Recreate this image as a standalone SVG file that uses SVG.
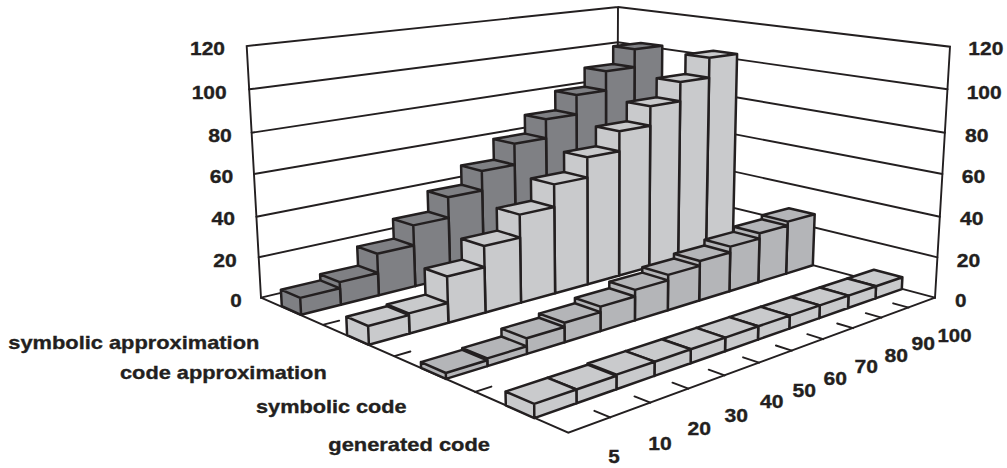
<svg xmlns="http://www.w3.org/2000/svg" width="1007" height="468" viewBox="0 0 1007 468">
<style>
.w{fill:none;stroke:#231f20;stroke-width:1.9;stroke-linecap:round}
.b{stroke:#231f20;stroke-width:2.5;stroke-linejoin:round}
.s3{fill:#7f8084}.s2{fill:#c9cacc}.s1{fill:#b4b5b8}.s0{fill:#c9cacc}
text{font-family:"Liberation Sans",Arial,Helvetica,sans-serif;font-weight:bold;font-size:19px;fill:#231f20;stroke:#231f20;stroke-width:0.35}
</style>
<rect width="1007" height="468" fill="#ffffff"/>
<g id="walls" class="w">
<path d="M261,297.7L246.7,46L618,7L950,46.7L935,297.7M617,213L618,7"/>
<path d="M249.1,89.3L617.8,42.3L947.5,89.3M251.6,132.7L617.7,77.2L944.9,132.7M254,174L617.5,111.8L942.4,174M256.4,216.7L617.3,145.9L939.8,216.7M258.7,257.3L617.2,179.6L937.4,257.3M261,297.7L617,213L935,297.7"/>
</g>
<g id="floor" class="w">
<path d="M261,297.7L568.3,432.7L935,297.7"/>
<path d="M610.3,417.4L594.4,410.8M650.4,402.7L634.5,396.4M688.4,388.7L672.5,382.7M724.6,375.4L708.7,369.7M759,362.7L743.1,357.3M791.8,350.7L775.9,345.5M823.1,339.2L807.3,334.2M853,328.2L837.2,323.5M881.5,317.7L865.8,313.2M908.8,307.6L893.2,303.3"/>
<path d="M475.1,391.9L491.4,386.6M394.4,356.1L410.4,351.5M323.6,324.7L339.2,320.7"/>
</g>
<g id="series-symbolic-approximation" class="b s3">
<path d="M613,225.6L633.8,231.4L634.7,49.2L613.2,46.3ZM633.8,231.4L660.6,224.7L662.3,45.8L634.7,49.2ZM634.7,49.2L662.3,45.8L640.8,42.9L613.2,46.3Z"/>
<path d="M585.2,232.3L606,238.3L606,71.2L584.6,67.8ZM606,238.3L633.8,231.4L634.6,67.3L606,71.2ZM606,71.2L634.6,67.3L613.2,64.1L584.6,67.8Z"/>
<path d="M556.5,239.4L577.2,245.6L576.5,94.9L555.2,91.1ZM577.2,245.6L606,238.3L606,90.5L576.5,94.9ZM576.5,94.9L606,90.5L584.7,86.8L555.2,91.1Z"/>
<path d="M526.6,246.6L547.3,253.1L545.9,119.3L524.8,115.1ZM547.3,253.1L577.2,245.6L576.5,114.4L545.9,119.3ZM545.9,119.3L576.5,114.4L555.4,110.3L524.8,115.1Z"/>
<path d="M495.7,254.2L516.2,260.8L514.4,143.7L493.4,139ZM516.2,260.8L547.3,253.1L546.1,138.2L514.4,143.7ZM514.4,143.7L546.1,138.2L525.1,133.6L493.4,139Z"/>
<path d="M463.5,262L483.9,268.9L481.8,171L461.1,165.6ZM483.9,268.9L516.2,260.8L514.7,164.8L481.8,171ZM481.8,171L514.7,164.8L493.8,159.7L461.1,165.6Z"/>
<path d="M430.1,270.1L450.3,277.4L448.1,197.2L427.6,191.3ZM450.3,277.4L483.9,268.9L482.2,190.4L448.1,197.2ZM448.1,197.2L482.2,190.4L461.6,184.7L427.6,191.3Z"/>
<path d="M395.3,278.6L415.3,286.1L413.3,225.4L393,219ZM415.3,286.1L450.3,277.4L448.7,217.9L413.3,225.4ZM413.3,225.4L448.7,217.9L428.3,211.7L393,219Z"/>
<path d="M359,287.4L378.8,295.3L377.2,253.7L357.2,246.6ZM378.8,295.3L415.3,286.1L413.9,245.5L377.2,253.7ZM377.2,253.7L413.9,245.5L393.8,238.6L357.2,246.6Z"/>
<path d="M321.2,296.6L340.8,304.8L339.7,282.1L320.1,274.3ZM340.8,304.8L378.8,295.3L378,273L339.7,282.1ZM339.7,282.1L378,273L358.1,265.6L320.1,274.3Z"/>
<path d="M281.8,306.2L301.1,314.8L300.2,297.9L280.9,289.7ZM301.1,314.8L340.8,304.8L340,288.3L300.2,297.9ZM300.2,297.9L340,288.3L320.4,280.4L280.9,289.7Z"/>
</g>
<g id="series-code-approximation" class="b s2">
<path d="M683,245L706,251.4L709.4,57.7L685.6,54.4ZM706,251.4L732.8,244L737.1,53.9L709.4,57.7ZM709.4,57.7L737.1,53.9L713.3,50.8L685.6,54.4Z"/>
<path d="M655.1,252.5L678.1,259.1L680.4,82L656.7,78.2ZM678.1,259.1L706,251.4L709.1,77.7L680.4,82ZM680.4,82L709.1,77.7L685.3,74.1L656.7,78.2Z"/>
<path d="M626.2,260.2L649.2,267.1L650.4,106.2L626.8,102ZM649.2,267.1L678.1,259.1L680.2,101.3L650.4,106.2ZM650.4,106.2L680.2,101.3L656.5,97.3L626.8,102Z"/>
<path d="M596.1,268.3L619.1,275.5L619.4,131.3L595.9,126.6ZM619.1,275.5L649.2,267.1L650.3,125.8L619.4,131.3ZM619.4,131.3L650.3,125.8L626.7,121.3L595.9,126.6Z"/>
<path d="M564.9,276.7L587.7,284.2L587.3,157.3L564,152.1ZM587.7,284.2L619.1,275.5L619.4,151.2L587.3,157.3ZM587.3,157.3L619.4,151.2L595.9,146.2L564,152.1Z"/>
<path d="M532.3,285.4L555.1,293.2L554.1,184.4L530.9,178.5ZM555.1,293.2L587.7,284.2L587.4,177.6L554.1,184.4ZM554.1,184.4L587.4,177.6L564.1,172L530.9,178.5Z"/>
<path d="M498.4,294.5L521,302.6L519.7,214.6L496.7,208.1ZM521,302.6L555.1,293.2L554.3,207L519.7,214.6ZM519.7,214.6L554.3,207L531.2,200.8L496.7,208.1Z"/>
<path d="M463,304L485.5,312.5L484.1,246L461.3,238.8ZM485.5,312.5L521,302.6L520.1,237.6L484.1,246ZM484.1,246L520.1,237.6L497.2,230.6L461.3,238.8Z"/>
<path d="M426.1,314L448.4,322.8L447.1,276.5L424.6,268.5ZM448.4,322.8L485.5,312.5L484.5,267.2L447.1,276.5ZM447.1,276.5L484.5,267.2L461.9,259.6L424.6,268.5Z"/>
<path d="M387.5,324.3L409.5,333.5L408.8,313.4L386.7,304.5ZM409.5,333.5L448.4,322.8L447.8,303L408.8,313.4ZM408.8,313.4L447.8,303L425.4,294.6L386.7,304.5Z"/>
<path d="M347.1,335.1L368.9,344.8L368.1,326L346.3,316.7ZM368.9,344.8L409.5,333.5L408.9,315.1L368.1,326ZM368.1,326L408.9,315.1L386.8,306.2L346.3,316.7Z"/>
</g>
<g id="series-symbolic-code" class="b s1">
<path d="M760.5,266.5L786.1,273.6L787.8,221.6L761.9,215.3ZM786.1,273.6L812.8,265.3L814.7,214.3L787.8,221.6ZM787.8,221.6L814.7,214.3L788.9,208.3L761.9,215.3Z"/>
<path d="M732.7,274.8L758.3,282.2L759.6,233.3L733.8,226.7ZM758.3,282.2L786.1,273.6L787.6,225.6L759.6,233.3ZM759.6,233.3L787.6,225.6L761.8,219.3L733.8,226.7Z"/>
<path d="M703.7,283.5L729.4,291.2L730.4,246.6L704.5,239.7ZM729.4,291.2L758.3,282.2L759.5,238.6L730.4,246.6ZM730.4,246.6L759.5,238.6L733.6,231.9L704.5,239.7Z"/>
<path d="M673.6,292.5L699.2,300.5L699.9,261L674,253.7ZM699.2,300.5L729.4,291.2L730.2,252.5L699.9,261ZM699.9,261L730.2,252.5L704.4,245.5L674,253.7Z"/>
<path d="M642.1,301.9L667.8,310.3L668.2,274.9L642.3,267.2ZM667.8,310.3L699.2,300.5L699.8,265.9L668.2,274.9ZM668.2,274.9L699.8,265.9L674,258.5L642.3,267.2Z"/>
<path d="M609.3,311.7L634.9,320.4L635.1,289.9L609.3,281.7ZM634.9,320.4L667.8,310.3L668.1,280.4L635.1,289.9ZM635.1,289.9L668.1,280.4L642.3,272.6L609.3,281.7Z"/>
<path d="M575,321.9L600.5,331.1L600.5,306.6L574.9,298ZM600.5,331.1L634.9,320.4L635,296.5L600.5,306.6ZM600.5,306.6L635,296.5L609.3,288.2L574.9,298Z"/>
<path d="M539.2,332.7L564.6,342.2L564.5,322.8L539,313.6ZM564.6,342.2L600.5,331.1L600.5,312.1L564.5,322.8ZM564.5,322.8L600.5,312.1L574.9,303.3L539,313.6Z"/>
<path d="M501.7,343.9L526.9,353.9L526.7,338.3L501.4,328.7ZM526.9,353.9L564.6,342.2L564.5,327L526.7,338.3ZM526.7,338.3L564.5,327L539,317.8L501.4,328.7Z"/>
<path d="M462.4,355.6L487.4,366.1L487.3,358.4L462.2,348.1ZM487.4,366.1L526.9,353.9L526.8,346.3L487.3,358.4ZM487.3,358.4L526.8,346.3L501.5,336.5L462.2,348.1Z"/>
<path d="M421.1,367.9L446,378.9L445.8,373L420.9,362.1ZM446,378.9L487.4,366.1L487.3,360.3L445.8,373ZM445.8,373L487.3,360.3L462.2,349.9L420.9,362.1Z"/>
</g>
<g id="series-generated-code" class="b s0">
<path d="M846.8,290.4L875.5,298.4L876,286.2L847.4,278.5ZM875.5,298.4L901.8,289.1L902.4,277.2L876,286.2ZM876,286.2L902.4,277.2L873.9,269.8L847.4,278.5Z"/>
<path d="M819.2,299.7L848,308L848.5,295.6L819.7,287.5ZM848,308L875.5,298.4L876,286.2L848.5,295.6ZM848.5,295.6L876,286.2L847.4,278.5L819.7,287.5Z"/>
<path d="M790.4,309.5L819.3,318.1L819.8,305.4L790.9,297ZM819.3,318.1L848,308L848.5,295.6L819.8,305.4ZM819.8,305.4L848.5,295.6L819.7,287.5L790.9,297Z"/>
<path d="M760.4,319.6L789.3,328.6L789.7,315.6L760.7,306.8ZM789.3,328.6L819.3,318.1L819.8,305.4L789.7,315.6ZM789.7,315.6L819.8,305.4L790.9,297L760.7,306.8Z"/>
<path d="M728.9,330.2L757.9,339.6L758.3,326.3L729.2,317.1ZM757.9,339.6L789.3,328.6L789.7,315.6L758.3,326.3ZM758.3,326.3L789.7,315.6L760.7,306.8L729.2,317.1Z"/>
<path d="M696.1,341.3L725,351.2L725.3,337.6L696.3,327.9ZM725,351.2L757.9,339.6L758.3,326.3L725.3,337.6ZM725.3,337.6L758.3,326.3L729.2,317.1L696.3,327.9Z"/>
<path d="M661.6,352.9L690.6,363.3L690.8,349.3L661.8,339.2ZM690.6,363.3L725,351.2L725.3,337.6L690.8,349.3ZM690.8,349.3L725.3,337.6L696.3,327.9L661.8,339.2Z"/>
<path d="M625.5,365.1L654.4,375.9L654.6,361.7L625.5,351.1ZM654.4,375.9L690.6,363.3L690.8,349.3L654.6,361.7ZM654.6,361.7L690.8,349.3L661.8,339.2L625.5,351.1Z"/>
<path d="M587.6,377.8L616.4,389.3L616.5,374.6L587.5,363.5ZM616.4,389.3L654.4,375.9L654.6,361.7L616.5,374.6ZM616.5,374.6L654.6,361.7L625.5,351.1L587.5,363.5Z"/>
<path d="M547.7,391.3L576.5,403.3L576.4,389.5L547.6,377.8ZM576.5,403.3L616.4,389.3L616.5,375.8L576.4,389.5ZM576.4,389.5L616.5,375.8L587.5,364.7L547.6,377.8Z"/>
<path d="M505.8,405.4L534.3,418.1L534.2,403.9L505.5,391.6ZM534.3,418.1L576.5,403.3L576.4,389.5L534.2,403.9ZM534.2,403.9L576.4,389.5L547.6,377.8L505.5,391.6Z"/>
</g>
<g id="value-axis-left">
<text x="190" y="55" textLength="35" lengthAdjust="spacingAndGlyphs">120</text>
<text x="191.7" y="99.3" textLength="35" lengthAdjust="spacingAndGlyphs">100</text>
<text x="208.2" y="141.7" textLength="23.5" lengthAdjust="spacingAndGlyphs">80</text>
<text x="209.8" y="183.3" textLength="23.5" lengthAdjust="spacingAndGlyphs">60</text>
<text x="211.5" y="225" textLength="23.5" lengthAdjust="spacingAndGlyphs">40</text>
<text x="213.2" y="266.7" textLength="23.5" lengthAdjust="spacingAndGlyphs">20</text>
<text x="230.2" y="306.5" textLength="11.5" lengthAdjust="spacingAndGlyphs">0</text>
</g>
<g id="value-axis-right">
<text x="968.3" y="55" textLength="35" lengthAdjust="spacingAndGlyphs">120</text>
<text x="966.7" y="99.3" textLength="35" lengthAdjust="spacingAndGlyphs">100</text>
<text x="965" y="141.7" textLength="23.5" lengthAdjust="spacingAndGlyphs">80</text>
<text x="961.7" y="183.3" textLength="23.5" lengthAdjust="spacingAndGlyphs">60</text>
<text x="960" y="225" textLength="23.5" lengthAdjust="spacingAndGlyphs">40</text>
<text x="956.7" y="266.7" textLength="23.5" lengthAdjust="spacingAndGlyphs">20</text>
<text x="955" y="306.5" textLength="11.5" lengthAdjust="spacingAndGlyphs">0</text>
</g>
<g id="series-axis">
<text x="8.3" y="349.3" textLength="251" lengthAdjust="spacingAndGlyphs">symbolic approximation</text>
<text x="120" y="379.3" textLength="206.7" lengthAdjust="spacingAndGlyphs">code approximation</text>
<text x="256" y="413.3" textLength="150.7" lengthAdjust="spacingAndGlyphs">symbolic code</text>
<text x="328.3" y="451" textLength="161.7" lengthAdjust="spacingAndGlyphs">generated code</text>
</g>
<g id="category-axis">
<text x="608.3" y="463.3" textLength="11.5" lengthAdjust="spacingAndGlyphs">5</text>
<text x="648.3" y="450" textLength="23.5" lengthAdjust="spacingAndGlyphs">10</text>
<text x="687.5" y="435" textLength="23.5" lengthAdjust="spacingAndGlyphs">20</text>
<text x="724.5" y="421.7" textLength="23.5" lengthAdjust="spacingAndGlyphs">30</text>
<text x="760" y="408.3" textLength="23.5" lengthAdjust="spacingAndGlyphs">40</text>
<text x="792.5" y="396.7" textLength="23.5" lengthAdjust="spacingAndGlyphs">50</text>
<text x="823.5" y="385" textLength="23.5" lengthAdjust="spacingAndGlyphs">60</text>
<text x="854.5" y="373.3" textLength="23.5" lengthAdjust="spacingAndGlyphs">70</text>
<text x="884.5" y="361.7" textLength="23.5" lengthAdjust="spacingAndGlyphs">80</text>
<text x="911.5" y="350" textLength="23.5" lengthAdjust="spacingAndGlyphs">90</text>
<text x="937.5" y="341.7" textLength="34" lengthAdjust="spacingAndGlyphs">100</text>
</g>
</svg>
